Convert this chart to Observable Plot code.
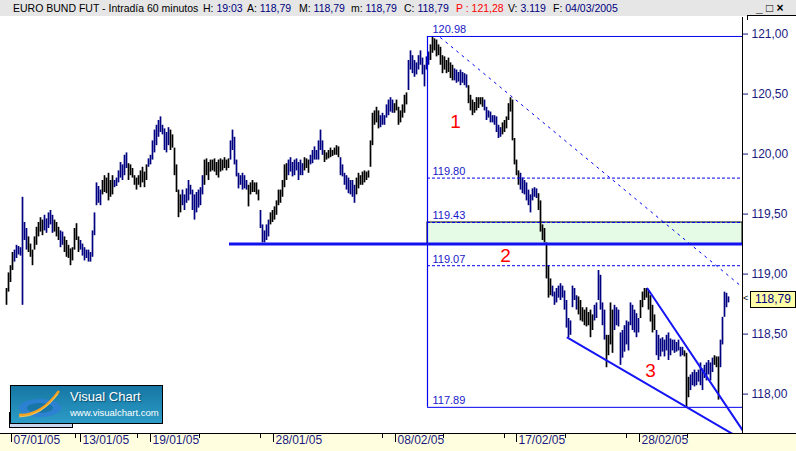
<!DOCTYPE html>
<html><head><meta charset="utf-8">
<script src="https://cdn.jsdelivr.net/npm/d3@7"></script>
<script src="https://cdn.jsdelivr.net/npm/@observablehq/plot@0.6"></script>
<style>
body{margin:0;background:#fff;font-family:"Liberation Sans",Arial,sans-serif;}
#wrap{position:relative;width:796px;height:451px;overflow:hidden;background:#fff;}
#hdr{position:absolute;left:0;top:0;width:796px;height:16px;background:#e6e6e6;font-size:10.5px;line-height:16px;white-space:nowrap;}
#hdr > span{position:absolute;top:0;}
.v{color:#000080}
#strip{position:absolute;left:0;top:433px;width:796px;height:18px;background:#ffffe0;border-top:1px solid #000;box-sizing:border-box;}
#chart{position:absolute;left:0;top:17px;}
#tag{position:absolute;left:750px;width:44px;height:15px;border:1px solid #000;background:#ffffa8;color:#000080;font-size:12px;line-height:15px;text-align:center;}
#arrow{position:absolute;left:743px;font-size:9px;color:#000;}
#logoShadow{position:absolute;left:9px;top:412px;width:62px;height:14px;background:#c8d6ef;border:1px solid #000;}
#logo{position:absolute;left:10px;top:385px;width:151px;height:37px;border:1px solid #000;background:linear-gradient(#1676a3,#2c9cc7);}
#logo .t1{position:absolute;left:59px;top:4px;color:#fff;font-size:13px;line-height:13px;text-shadow:1px 1px 1px #0b4b6b;}
#logo .t2{position:absolute;left:59px;top:22px;color:#fff;font-size:9.5px;line-height:10px;}
#btns{font-size:12px;font-weight:bold;color:#000;}
#corner{position:absolute;left:747px;top:15px;width:49px;height:4px;border-top:1px solid #000;border-left:1px solid #000;}
</style></head>
<body>
<div id="wrap">
  <div id="hdr">
    <span style="left:13px">EURO BUND FUT - Intradía 60 minutos</span>
    <span style="left:203px">H: <span class="v">19:03</span></span>
    <span style="left:247px">A: <span class="v">118,79</span></span>
    <span style="left:299px">M: <span class="v">118,79</span></span>
    <span style="left:351px">m: <span class="v">118,79</span></span>
    <span style="left:404px">C: <span class="v">118,79</span></span>
    <span style="left:456px;color:#ff0000">P : 121,28</span>
    <span style="left:508px">V: <span class="v">3.119</span></span>
    <span style="left:553px">F: <span class="v">04/03/2005</span></span>
    <span id="btns" style="left:756px">_ <span style="font-weight:normal">□</span> ×</span>
  </div>
  <div id="corner"></div>
  <div id="strip"></div>
  <div id="chart"></div>
  <div id="logoShadow"></div>
  <div id="logo">
    <svg width="60" height="37" style="position:absolute;left:0;top:0">
      <ellipse cx="29" cy="22" rx="21" ry="9" fill="#2f7fd6" opacity="0.85"/>
      <ellipse cx="29" cy="22" rx="13" ry="5" fill="#1676a3" opacity="0.9"/>
      <path d="M8 29 Q30 30 48 5" stroke="#f4a020" stroke-width="2.5" fill="none"/>
      <path d="M8 31 Q30 31 47 8" stroke="#f0d060" stroke-width="1" fill="none"/>
    </svg>
    <div class="t1">Visual Chart</div>
    <div class="t2">www.visualchart.com</div>
  </div>
</div>
<script>
// ---- data ----
const high = [
118.88,119.01,119.07,119.18,119.20,119.24,119.23,119.22,119.64,119.43,
119.38,119.31,119.25,119.20,119.31,119.39,119.43,119.47,119.45,119.49,
119.46,119.51,119.53,119.49,119.45,119.43,119.39,119.36,119.35,119.31,
119.28,119.24,119.21,119.22,119.38,119.42,119.31,119.28,119.25,119.22,
119.20,119.20,119.18,119.36,119.51,119.76,119.73,119.70,119.78,119.82,
119.80,119.84,119.78,119.82,119.78,119.80,119.86,119.93,119.91,119.99,
120.01,119.92,119.91,119.88,119.82,119.80,119.82,119.86,119.89,119.85,
119.91,119.96,119.99,120.11,120.20,120.24,120.28,120.31,120.24,120.21,
120.18,120.22,120.20,120.16,120.05,119.91,119.70,119.66,119.70,119.66,
119.71,119.78,119.74,119.70,119.66,119.68,119.70,119.72,119.82,119.95,
119.96,119.93,119.95,119.95,119.96,119.93,119.95,119.96,119.95,119.97,
119.95,119.96,120.11,120.20,120.14,119.95,119.84,119.82,119.84,119.82,
119.78,119.74,119.76,119.78,119.76,119.76,119.70,119.53,119.41,119.36,
119.41,119.45,119.51,119.53,119.56,119.61,119.70,119.70,119.78,119.91,
119.92,119.95,119.97,119.93,119.95,119.96,119.93,119.95,119.92,119.97,
119.96,119.95,119.99,120.03,120.06,120.03,120.11,120.20,120.11,120.03,
120.01,120.03,120.05,120.03,120.05,120.07,120.06,119.97,119.91,119.84,
119.82,119.80,119.78,119.78,119.74,119.80,119.84,119.82,119.85,119.86,
119.85,119.86,120.11,120.34,120.36,120.39,120.36,120.32,120.34,120.32,
120.41,120.45,120.47,120.45,120.42,120.45,120.39,120.36,120.41,120.49,
120.51,120.78,120.86,120.82,120.78,120.76,120.82,120.86,120.80,120.74,
120.81,120.85,120.91,120.98,120.96,120.95,120.91,120.89,120.82,120.81,
120.78,120.80,120.76,120.74,120.71,120.70,120.68,120.70,120.68,120.67,
120.66,120.57,120.49,120.45,120.43,120.47,120.47,120.47,120.47,120.45,
120.39,120.36,120.35,120.32,120.32,120.31,120.24,120.22,120.26,120.28,
120.31,120.42,120.47,120.45,120.13,119.95,119.86,119.84,119.80,119.78,
119.76,119.70,119.66,119.71,119.72,119.71,119.67,119.61,119.41,119.38,
119.26,119.07,118.96,118.90,118.85,118.88,118.90,118.92,118.90,118.86,
118.78,118.63,118.61,118.90,118.88,118.82,118.81,118.78,118.72,118.70,
118.72,118.68,118.70,118.66,118.74,118.76,119.03,118.99,118.76,118.70,
118.49,118.49,118.76,118.70,118.74,118.72,118.70,118.51,118.53,118.57,
118.61,118.60,118.76,118.74,118.70,118.67,118.63,118.78,118.85,118.88,
118.88,118.86,118.82,118.74,118.66,118.53,118.49,118.46,118.47,118.45,
118.49,118.51,118.46,118.45,118.45,118.43,118.45,118.39,118.39,118.36,
118.34,118.14,118.16,118.18,118.20,118.18,118.20,118.26,118.21,118.24,
118.26,118.28,118.26,118.30,118.32,118.31,118.31,118.45,118.64,118.85,
118.84,118.81];
const low = [
118.74,118.85,118.93,119.03,119.10,119.13,119.16,119.15,118.74,119.28,
119.20,119.18,119.14,119.07,119.20,119.24,119.31,119.35,119.32,119.36,
119.34,119.38,119.41,119.34,119.35,119.31,119.28,119.22,119.24,119.18,
119.14,119.13,119.07,119.11,119.20,119.28,119.18,119.20,119.15,119.11,
119.13,119.10,119.10,119.14,119.32,119.57,119.59,119.57,119.66,119.68,
119.67,119.61,119.64,119.66,119.72,119.73,119.76,119.80,119.78,119.82,
119.88,119.78,119.82,119.80,119.74,119.70,119.74,119.72,119.76,119.72,
119.78,119.89,119.91,119.95,120.01,120.07,120.14,120.18,120.16,120.03,
120.01,120.07,120.03,120.05,119.82,119.68,119.47,119.51,119.57,119.53,
119.59,119.61,119.66,119.53,119.45,119.51,119.55,119.57,119.66,119.74,
119.82,119.78,119.85,119.86,119.85,119.82,119.80,119.85,119.86,119.88,
119.86,119.88,119.95,120.03,119.91,119.81,119.71,119.74,119.70,119.71,
119.70,119.56,119.66,119.68,119.68,119.66,119.61,119.38,119.26,119.26,
119.28,119.31,119.41,119.43,119.45,119.49,119.57,119.59,119.64,119.72,
119.78,119.82,119.85,119.81,119.82,119.86,119.78,119.82,119.82,119.86,
119.88,119.84,119.91,119.92,119.95,119.95,119.95,120.03,119.99,119.93,
119.95,119.96,119.97,119.98,119.99,119.99,119.97,119.82,119.81,119.74,
119.70,119.67,119.66,119.64,119.59,119.66,119.71,119.74,119.74,119.76,
119.78,119.80,119.89,120.07,120.24,120.26,120.21,120.22,120.24,120.24,
120.30,120.32,120.35,120.34,120.34,120.36,120.24,120.26,120.30,120.34,
120.41,120.53,120.70,120.67,120.64,120.66,120.70,120.74,120.66,120.56,
120.70,120.74,120.78,120.84,120.86,120.81,120.82,120.74,120.67,120.70,
120.67,120.68,120.63,120.61,120.61,120.59,120.60,120.57,120.59,120.57,
120.55,120.42,120.36,120.32,120.34,120.36,120.38,120.41,120.39,120.36,
120.28,120.30,120.26,120.26,120.24,120.18,120.13,120.14,120.16,120.18,
120.21,120.28,120.35,120.11,119.91,119.82,119.74,119.70,119.67,119.66,
119.61,119.57,119.51,119.61,119.64,119.63,119.53,119.35,119.28,119.26,
118.96,118.80,118.82,118.81,118.74,118.76,118.80,118.78,118.80,118.70,
118.55,118.47,118.49,118.72,118.78,118.70,118.66,118.61,118.60,118.57,
118.56,118.57,118.47,118.53,118.61,118.63,118.78,118.70,118.57,118.45,
118.22,118.32,118.41,118.34,118.53,118.57,118.56,118.24,118.30,118.35,
118.41,118.36,118.57,118.53,118.51,118.47,118.51,118.63,118.72,118.78,
118.80,118.70,118.60,118.51,118.53,118.32,118.28,118.31,118.35,118.31,
118.36,118.28,118.32,118.36,118.34,118.35,118.36,118.31,118.32,118.31,
117.89,117.97,118.03,118.07,118.06,118.07,118.10,118.07,118.03,118.13,
118.11,118.16,118.11,118.18,118.24,118.22,117.95,118.22,118.41,118.64,
118.72,118.76];
// bar colour runs (count, trend): d = down/black, u = up/navy
const trendRuns = [[4,"d"],[7,"u"],[8,"d"],[5,"u"],[3,"d"],[2,"u"],[8,"d"],[11,"u"],[6,"d"],[7,"u"],
[10,"d"],[11,"u"],[6,"d"],[11,"u"],[13,"d"],[9,"u"],[6,"d"],[5,"u"],[9,"d"],[8,"u"],[3,"d"],[7,"u"],
[8,"d"],[8,"u"],[12,"d"],[7,"u"],[7,"d"],[11,"u"],[12,"d"],[7,"u"],[8,"d"],[9,"u"],[9,"d"],[9,"u"],
[7,"d"],[13,"u"],[8,"d"],[6,"u"],[4,"d"],[13,"u"],[8,"d"],[14,"u"],[3,"d"],[12,"u"],[3,"d"],[5,"u"]];
const firstBar = 6, barStep = 2, lastBar = 742;
const lastClose = 118.79;
const yTicks = [118, 118.5, 119, 119.5, 120, 120.5, 121];
const yDomain = [117.672, 121.138];
const dateLabels = ["07/01/05","13/01/05","19/01/05","28/01/05","08/02/05","17/02/05","28/02/05"];
const dateBars = [11, 80, 150, 273, 395, 516, 639];
const minorBars = [75, 137, 199, 260, 382, 443, 504, 565, 626, 687];
// Fibonacci retracement of the 120.98 -> 117.89 fall
const fibStart = 427;
const fibSolid = [120.98, 117.89];
const fibDashed = [119.80, 119.43, 119.07];
const fibLabels = [120.98, 119.80, 119.43, 119.07, 117.89];
const zone = {top: 119.43, bottom: 119.25};
const support = {price: 119.25, from: 229};
const resistanceBars = [440, 742], resistancePrices = [120.97, 118.89];
const channelLowBars = [567, 742], channelLowPrices = [118.47, 117.62];
const channelHighBars = [647, 742], channelHighPrices = [118.88, 117.70];
const waveText = ["1", "2", "3"];
const waveBars = [455, 505, 650];
const wavePrices = [120.22, 119.10, 118.14];

// ---- build ----
const trend = trendRuns.flatMap(([n, t]) => Array(n).fill(t));
const bars = high.map((h, i) => ({bar: firstBar + barStep * i, high: h, low: low[i], trend: trend[i]}));
const pts = (xs, ys) => xs.map((x, i) => ({x, y: ys[i]}));
const blue = "#0000f0", navy = "#000080", axisCol = "#1a1a80";
const fmt = d => d.toFixed(2).replace(".", ",");

const chart = Plot.plot({
  width: 796, height: 434,
  marginLeft: 0, marginRight: 54, marginTop: 0, marginBottom: 18,
  x: {domain: [0, lastBar], axis: null},
  y: {domain: yDomain, axis: null},
  color: {domain: ["d", "u"], range: ["#000000", navy]},
  style: {background: "transparent", fontFamily: "Liberation Sans, Arial, sans-serif", overflow: "visible"},
  marks: [
    Plot.rect([zone], {x1: fibStart, x2: lastBar, y1: "bottom", y2: "top", fill: "#e6fbe6", stroke: "#000", strokeWidth: 1}),
    Plot.ruleX(bars, {x: "bar", y1: "low", y2: "high", stroke: "trend", strokeWidth: 1.7, clip: true}),
    Plot.ruleY(fibDashed, {y: d => d, x1: fibStart, x2: lastBar, stroke: blue, strokeWidth: 1, strokeDasharray: "3,2"}),
    Plot.ruleY(fibSolid, {y: d => d, x1: fibStart, x2: lastBar, stroke: blue, strokeWidth: 1}),
    Plot.ruleX([fibStart], {y1: fibSolid[1], y2: fibSolid[0], stroke: blue, strokeWidth: 1.2}),
    Plot.ruleY([support], {y: "price", x1: "from", x2: lastBar, stroke: "#1212f0", strokeWidth: 3}),
    Plot.line(pts(resistanceBars, resistancePrices), {x: "x", y: "y", stroke: blue, strokeWidth: 1, strokeDasharray: "2,5"}),
    Plot.line(pts(channelLowBars, channelLowPrices), {x: "x", y: "y", stroke: "#1515f5", strokeWidth: 2, clip: true}),
    Plot.line(pts(channelHighBars, channelHighPrices), {x: "x", y: "y", stroke: "#1515f5", strokeWidth: 2, clip: true}),
    Plot.text(fibLabels, {x: fibStart, y: d => d, text: d => d.toFixed(2), dx: 5, dy: -3, textAnchor: "start", lineAnchor: "bottom", fill: "#1818c8", fontSize: 11}),
    Plot.text(waveText, {x: (d, i) => waveBars[i], y: (d, i) => wavePrices[i], text: d => d, textAnchor: "middle", lineAnchor: "bottom", fill: "#ff0000", fontSize: 19}),
    Plot.ruleX([lastBar], {stroke: "#000", strokeWidth: 1}),
    Plot.axisY(yTicks, {anchor: "right", tickFormat: fmt, tickSize: 5, tickPadding: 4, fontSize: 12, color: axisCol}),
    Plot.axisX(dateBars, {tickSize: 9, tickFormat: () => "", stroke: "#000"}),
    Plot.axisX(minorBars, {tickSize: 5, tickFormat: () => "", stroke: "#000"}),
    Plot.axisX(dateBars, {tickSize: 0, tickPadding: 2, textAnchor: "start", dx: 2, fontSize: 12, fill: axisCol,
      tickFormat: d => dateLabels[dateBars.indexOf(d)]})
  ]
});
document.getElementById("chart").appendChild(chart);

const yPix = chart.scale("y").apply(lastClose) + 17;
const tag = document.createElement("div");
tag.id = "tag"; tag.textContent = fmt(lastClose); tag.style.top = (yPix - 8) + "px";
const arrow = document.createElement("div");
arrow.id = "arrow"; arrow.textContent = "<"; arrow.style.top = (yPix - 6) + "px";
document.getElementById("wrap").appendChild(tag);
document.getElementById("wrap").appendChild(arrow);
</script>
</body></html>
